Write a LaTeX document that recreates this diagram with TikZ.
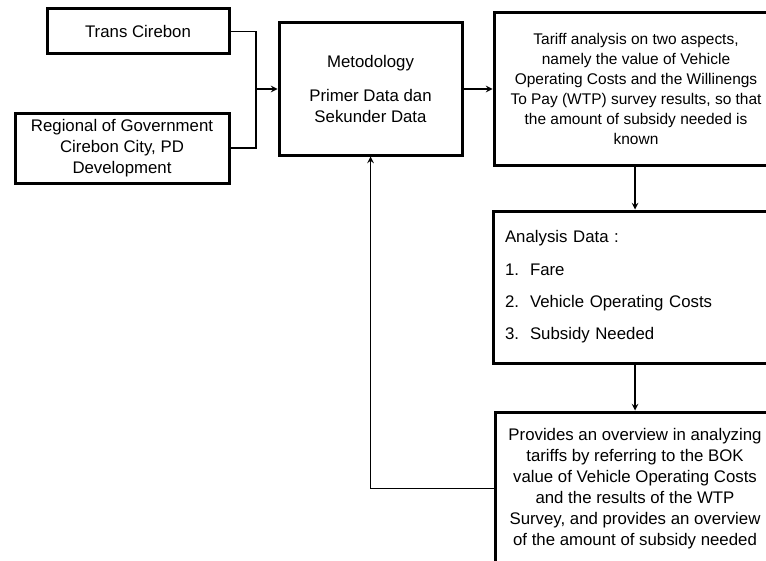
\documentclass[tikz,border=0pt]{standalone}
\usepackage{fontspec}
\setmainfont{Liberation Sans}

\begin{document}
\begin{tikzpicture}[x=0.75pt, y=-0.75pt, >=stealth,
    box/.style={draw, line width=2.25pt, inner sep=0pt, align=center,
        font=\fontsize{12.6}{15.8}\selectfont},
    line/.style={line width=1.2pt}]
    % Khung hình
    \clip (0,0) rectangle (766,560);

    % Các hộp đầu vào
    \node[box, minimum width=136.5pt, minimum height=33.75pt] (trans) at (138,31.5) {Trans Cirebon};
    \node[box, minimum width=160.5pt, minimum height=52.5pt] (regional) at (122,148)
        {Regional of Government\\Cirebon City, PD\\Development};

    % Hộp phương pháp
    \node[box, minimum width=137.25pt, minimum height=99pt] (metod) at (370.5,89)
        {Metodology\\[9.7pt]Primer Data dan\\Sekunder Data};

    % Cột bên phải
    \node[box, font=\fontsize{11.6}{15.1}\selectfont, minimum width=213pt, minimum height=114pt] (tariff) at (636,89)
        {Tariff analysis on two aspects,\\namely the value of Vehicle\\Operating Costs and the Willinengs\\To Pay (WTP) survey results, so that\\the amount of subsidy needed is\\known};
    \node[box, align=left, text width=195pt, inner xsep=9pt, minimum width=213pt, minimum height=114pt] (analysis) at (635,287)
        {Analysis Data :\\[8.4pt]
         \makebox[18.75pt][l]{1.}Fare\\[8.4pt]
         \makebox[18.75pt][l]{2.}Vehicle Operating Costs\\[8.4pt]
         \makebox[18.75pt][l]{3.}Subsidy Needed};
    \node[box, minimum width=210pt, minimum height=114.75pt] (result) at (635,488.5)
        {Provides an overview in analyzing\\tariffs by referring to the BOK\\value of Vehicle Operating Costs\\and the results of the WTP\\Survey, and provides an overview\\of the amount of subsidy needed};

    % Đường nối
    \coordinate (join) at (256,89);
    \draw[line] (trans.east) -| (join);
    \draw[line] (regional.east) -| (join);
    \draw[line, ->] (join) -- (metod.west);
    \draw[line, ->] (metod.east) -- (tariff.west);
    \draw[line, ->] (tariff.south -| analysis.north) -- (analysis.north);
    \draw[line, ->] (analysis.south) -- (result.north);
    \draw[line, ->] (result.west) -| (metod.south);

\end{tikzpicture}
\end{document}
